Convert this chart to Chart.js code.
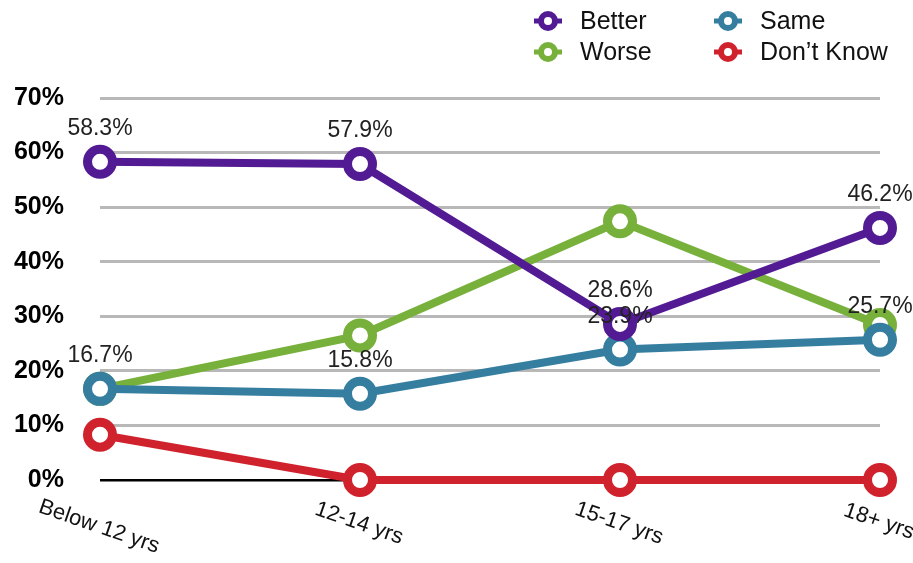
<!DOCTYPE html>
<html>
<head>
<meta charset="utf-8">
<script src="https://cdn.jsdelivr.net/npm/chart.js@4/dist/chart.umd.min.js"></script>
<style>
  html, body { margin: 0; padding: 0; background: #ffffff; }
  canvas { display: block; }
</style>
</head>
<body>
<canvas id="chart" width="913" height="563"></canvas>
<script>
// Age groups along the x axis
const ageGroups = ['Below 12 yrs', '12-14 yrs', '15-17 yrs', '18+ yrs'];

// Share of answers per age group (%)
const better   = [58.3, 57.9, 28.6, 46.2];
const same     = [16.7, 15.8, 23.9, 25.7];
const worse    = [16.7, 26.5, 47.4, 28.4];
const dontKnow = [8.3, 0, 0, 0];

// Y axis range and step (%)
const yTicks = [0, 10, 20, 30, 40, 50, 60, 70];

const seriesNames  = ['Better', 'Same', 'Worse', 'Don\u2019t Know'];
const seriesColors = ['#531b93', '#357ea0', '#77b03a', '#d0222d'];
// only these series carry value labels
const labelledSeries = ['Better', 'Same'];

const FONT = '"Liberation Sans", "Helvetica Neue", Helvetica, Arial, sans-serif';

function makeSet(name, values, color) {
  return {
    label: name,
    data: values,
    borderColor: color,
    backgroundColor: color,
    borderWidth: 8,
    tension: 0,
    pointRadius: 12.5,
    pointHoverRadius: 12.5,
    pointBorderWidth: 9,
    pointHoverBorderWidth: 9,
    pointBackgroundColor: '#ffffff',
    pointBorderColor: color,
    clip: false
  };
}

// value labels above the points
const valueLabels = {
  id: 'valueLabels',
  afterDatasetsDraw(chart) {
    const ctx = chart.ctx;
    ctx.save();
    ctx.font = '23px ' + FONT;
    ctx.fillStyle = '#222222';
    ctx.textAlign = 'center';
    ctx.textBaseline = 'middle';
    chart.data.datasets.forEach((ds, i) => {
      if (!labelledSeries.includes(ds.label)) return;
      const meta = chart.getDatasetMeta(i);
      meta.data.forEach((pt, j) => {
        ctx.fillText(ds.data[j].toFixed(1) + '%', pt.x, pt.y - 33);
      });
    });
    ctx.restore();
  }
};

// slanted category labels under the axis
const slantedLabels = {
  id: 'slantedLabels',
  afterDraw(chart) {
    const ctx = chart.ctx;
    const xs = chart.scales.x;
    const base = chart.scales.y.getPixelForValue(0);
    ctx.save();
    ctx.font = '22px ' + FONT;
    ctx.fillStyle = '#111111';
    ctx.textAlign = 'center';
    ctx.textBaseline = 'alphabetic';
    ageGroups.forEach((lab, i) => {
      const x = xs.getPixelForValue(i);
      const w = ctx.measureText(lab).width;
      ctx.save();
      ctx.translate(x - 3, base + 40 + w * 0.1);
      ctx.rotate(19 * Math.PI / 180);
      ctx.fillText(lab, 0, 0);
      ctx.restore();
    });
    ctx.restore();
  }
};

// two-column legend in the top right corner
const cornerLegend = {
  id: 'cornerLegend',
  afterDraw(chart) {
    const ctx = chart.ctx;
    const cols = [548, 728];
    const rows = [21, 52];
    const order = ['Better', 'Same', 'Worse', 'Don\u2019t Know'];
    ctx.save();
    ctx.font = '25px ' + FONT;
    ctx.textBaseline = 'middle';
    ctx.textAlign = 'left';
    order.forEach((name, k) => {
      const ds = chart.data.datasets.find(d => d.label === name);
      const cx = cols[k % 2];
      const cy = rows[Math.floor(k / 2)];
      ctx.strokeStyle = ds.borderColor;
      ctx.lineWidth = 5;
      ctx.beginPath();
      ctx.moveTo(cx - 14, cy);
      ctx.lineTo(cx + 14, cy);
      ctx.stroke();
      ctx.lineWidth = 6;
      ctx.fillStyle = '#ffffff';
      ctx.beginPath();
      ctx.arc(cx, cy, 7, 0, Math.PI * 2);
      ctx.fill();
      ctx.stroke();
      ctx.fillStyle = '#111111';
      ctx.fillText(name, cx + 32, cy + 1);
    });
    ctx.restore();
  }
};

const datasets = [
  makeSet(seriesNames[0], better, seriesColors[0]),
  makeSet(seriesNames[1], same, seriesColors[1]),
  makeSet(seriesNames[2], worse, seriesColors[2]),
  makeSet(seriesNames[3], dontKnow, seriesColors[3])
];

new Chart(document.getElementById('chart'), {
  type: 'line',
  data: { labels: ageGroups, datasets },
  plugins: [valueLabels, slantedLabels, cornerLegend],
  options: {
    responsive: false,
    animation: false,
    events: [],
    layout: { padding: { top: 98, right: 33, left: 0, bottom: 0 } },
    plugins: {
      legend: { display: false },
      tooltip: { enabled: false },
      title: { display: false }
    },
    scales: {
      x: {
        offset: false,
        grid: { display: false, drawTicks: false },
        border: { display: false },
        ticks: { display: false },
        afterFit(scale) { scale.height = 83; }
      },
      y: {
        min: yTicks[0],
        max: yTicks[yTicks.length - 1],
        afterBuildTicks(scale) { scale.ticks = yTicks.map(v => ({ value: v })); },
        afterFit(scale) { scale.width = 100; },
        border: { display: false },
        grid: {
          drawTicks: false,
          color: ctx => ctx.tick && ctx.tick.value === 0 ? '#000000' : '#b8b8b8',
          lineWidth: ctx => ctx.tick && ctx.tick.value === 0 ? 2.5 : 3
        },
        ticks: {
          padding: 36,
          color: '#000000',
          font: { family: FONT, size: 25, weight: 'bold' },
          callback: v => v + '%'
        }
      }
    }
  }
});
</script>
</body>
</html>
